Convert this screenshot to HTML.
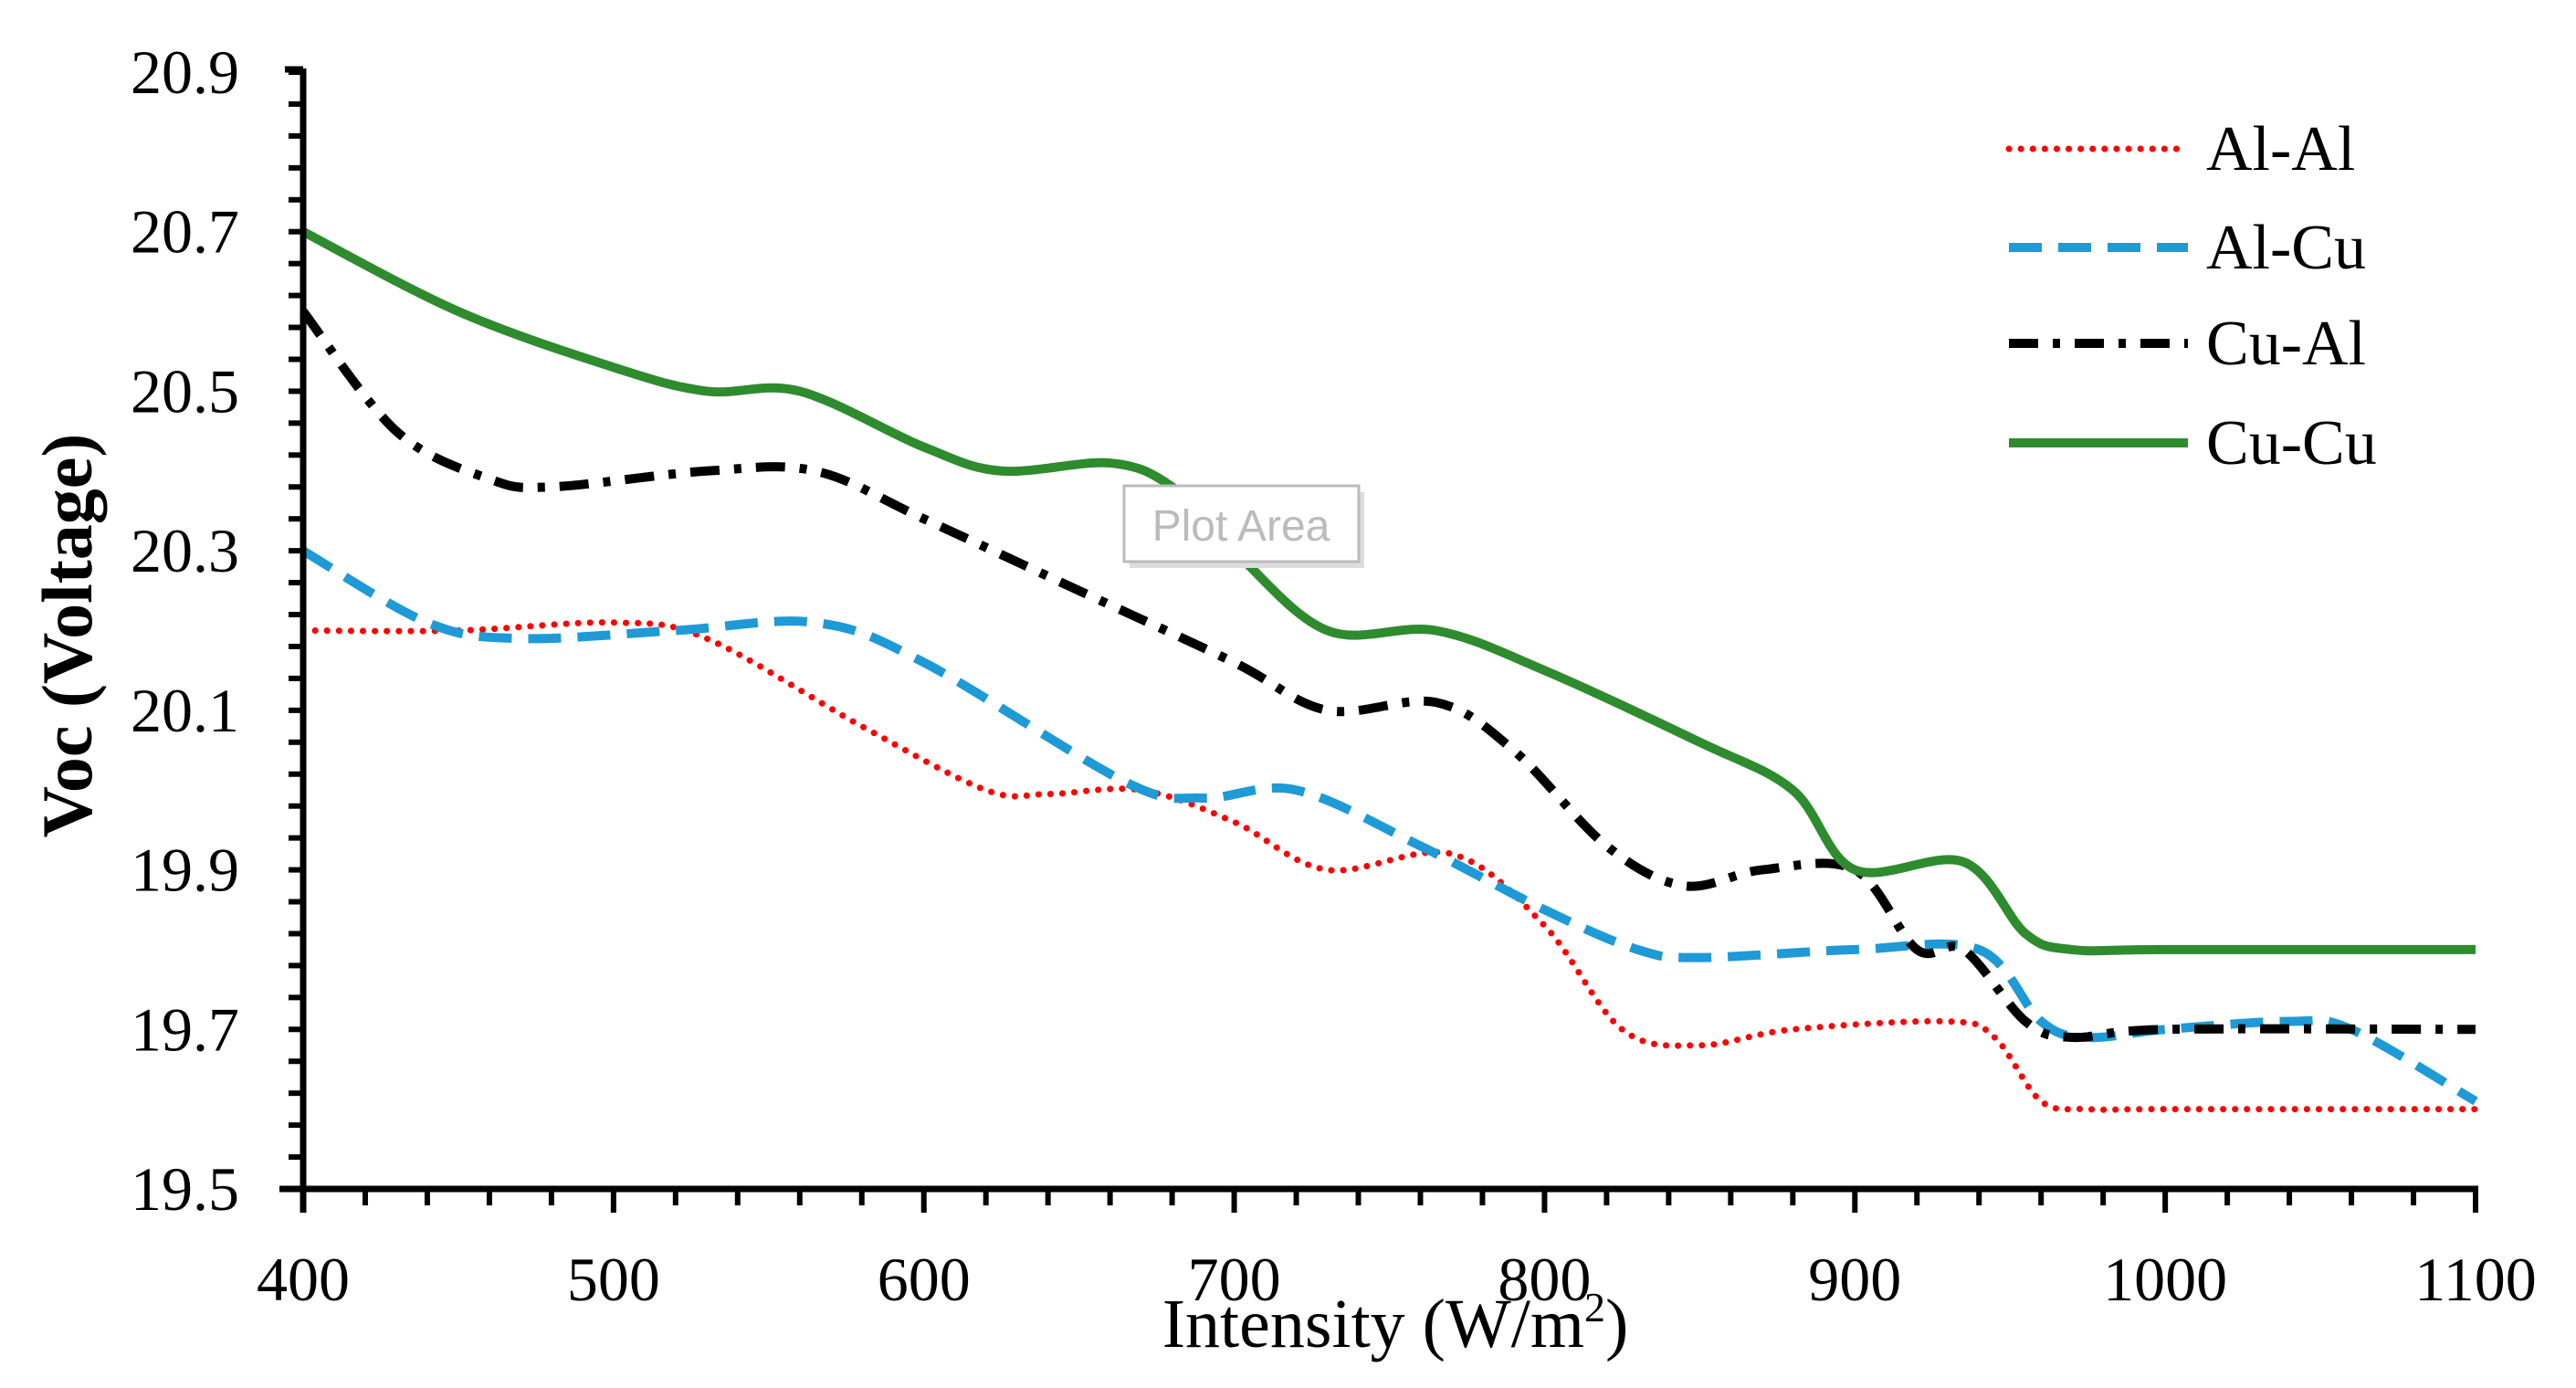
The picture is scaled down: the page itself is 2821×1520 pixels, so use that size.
<!DOCTYPE html>
<html><head><meta charset="utf-8"><style>
html,body{margin:0;padding:0;background:#fff}
svg{display:block}
text{font-family:"Liberation Serif",serif;fill:#000}
</style></head><body>
<svg id="chart" width="2821" height="1520" viewBox="0 0 2821 1520" xmlns="http://www.w3.org/2000/svg">
<g id="grid"></g><g id="series"></g><g id="axes"></g><g id="legend"></g>
</svg>
<script>
const xTicks=[400,500,600,700,800,900,1000,1100];
const yTicks=[19.5,19.7,19.9,20.1,20.3,20.5,20.7,20.9];
const alAlX=[400,450,500,530,580,620,640,670,700,730,770,800,825,850,880,930,945,960,975,1000,1100];
const alAlY=[20.2,20.2,20.21,20.19,20.08,20.0,19.995,20.0,19.96,19.9,19.92,19.83,19.7,19.68,19.7,19.71,19.69,19.61,19.6,19.6,19.6];
const alCuX=[400,440,470,520,565,600,665,690,720,760,800,830,850,900,940,960,975,1000,1040,1060,1100];
const alCuY=[20.3,20.21,20.19,20.2,20.21,20.16,20.01,19.99,20.0,19.93,19.85,19.8,19.79,19.8,19.8,19.71,19.69,19.7,19.71,19.7,19.61];
const cuAlX=[400,430,460,480,530,565,600,650,700,730,765,790,820,845,870,900,920,935,955,970,1000,1100];
const cuAlY=[20.6,20.45,20.39,20.38,20.4,20.4,20.34,20.25,20.16,20.1,20.11,20.05,19.93,19.88,19.9,19.9,19.8,19.8,19.71,19.69,19.7,19.7];
const cuCuX=[400,450,500,530,560,600,625,660,680,700,730,765,800,850,880,900,935,955,970,1000,1100];
const cuCuY=[20.7,20.6,20.53,20.5,20.5,20.43,20.4,20.41,20.38,20.3,20.2,20.2,20.15,20.06,20.0,19.9,19.91,19.82,19.8,19.8,19.8];
const names=["Al-Al","Al-Cu","Cu-Al","Cu-Cu"];

const NS="http://www.w3.org/2000/svg";
const X0=332,X1=2711,Y0=1302,Y1=79;
const sx=v=>X0+(v-400)/(1100-400)*(X1-X0);
const sy=v=>Y0-(v-19.5)/(20.9-19.5)*(Y0-Y1);
function mk(tag,attrs,parent){const e=document.createElementNS(NS,tag);for(const k in attrs)e.setAttribute(k,attrs[k]);parent.appendChild(e);return e;}
const axes=document.getElementById('axes'),ser=document.getElementById('series'),leg=document.getElementById('legend');

function smooth(xs,ys){
  const p=xs.map((x,i)=>[sx(x),sy(ys[i])]);
  let d=`M${p[0][0]},${p[0][1]}`;
  for(let i=0;i<p.length-1;i++){
    const p0=p[i-1]||p[i],p1=p[i],p2=p[i+1],p3=p[i+2]||p[i+1];
    const c1=[p1[0]+(p2[0]-p0[0])/6,p1[1]+(p2[1]-p0[1])/6];
    const c2=[p2[0]-(p3[0]-p1[0])/6,p2[1]-(p3[1]-p1[1])/6];
    d+=` C${c1[0]},${c1[1]} ${c2[0]},${c2[1]} ${p2[0]},${p2[1]}`;
  }
  return d;
}
const styles=[
 {stroke:"#ff0000",w:7,dash:"0.1 13",cap:"round"},
 {stroke:"#1e9ad6",w:10,dash:"36 18",cap:"butt"},
 {stroke:"#000000",w:10,dash:"32 16 8 16",cap:"butt"},
 {stroke:"#2e8b2e",w:10,dash:"",cap:"butt"}];
const data=[[alAlX,alAlY],[alCuX,alCuY],[cuAlX,cuAlY],[cuCuX,cuCuY]];
const snames=["series-al-al","series-al-cu","series-cu-al","series-cu-cu"];
data.forEach((s,i)=>{
  const st=styles[i];
  const el=mk('path',{d:smooth(s[0],s[1]),fill:"none",stroke:st.stroke,"stroke-width":st.w,"stroke-dasharray":st.dash,"stroke-linecap":st.cap},ser);
  
  
});
let a=mk('line',{x1:X0,y1:Y1-4,x2:X0,y2:Y0+26,stroke:"#000","stroke-width":7},axes);

a=mk('line',{x1:X0-26,y1:Y0,x2:X1+3,y2:Y0,stroke:"#000","stroke-width":7},axes);

mk('line',{x1:X0-20,y1:Y1-3,x2:X0,y2:Y1-3,stroke:"#000","stroke-width":7},axes);
for(let v=19.5;v<=20.9001;v+=0.04){const y=sy(v);const t=mk('line',{x1:X0-16,y1:y,x2:X0,y2:y,stroke:"#000","stroke-width":6},axes);}
for(let v=400;v<=1100;v+=20){const x=sx(v);const maj=(v%100===0);const t=mk('line',{x1:x,y1:Y0,x2:x,y2:Y0+(maj?26:18),stroke:"#000","stroke-width":6},axes);}
yTicks.forEach(v=>{const t=mk('text',{x:262,y:sy(v)+23,"text-anchor":"end","font-size":68},axes);t.textContent=v.toFixed(1);});
xTicks.forEach(v=>{const t=mk('text',{x:sx(v),y:1424,"text-anchor":"middle","font-size":68},axes);t.textContent=String(v);});
let t=mk('text',{x:1528,y:1475,"text-anchor":"middle","font-size":76},axes);
t.innerHTML='Intensity (W/m<tspan font-size="46" dy="-28">2</tspan><tspan dy="28">)</tspan>';

t=mk('text',{x:0,y:0,"text-anchor":"middle","font-size":78,"font-weight":"bold",transform:"translate(100,696) rotate(-90)"},axes);
t.textContent='Voc (Voltage)';
const tip=mk('g',{},axes);
mk('rect',{x:1237,y:539,width:257,height:83,fill:"#ddd"},tip);
mk('rect',{x:1231,y:532,width:257,height:83,fill:"#fff",stroke:"#bbb","stroke-width":3},tip);
const tt=mk('text',{x:1359,y:592,"text-anchor":"middle","font-size":48,style:"font-family:'Liberation Sans',sans-serif;fill:#bbb"},tip);tt.textContent='Plot Area';
const ly=[163,271,376,485];
names.forEach((n,i)=>{
  const st=styles[i];
  const g=mk('g',{},leg);
  
  
  mk('line',{x1:2200,y1:ly[i],x2:2396,y2:ly[i],stroke:st.stroke,"stroke-width":st.w,"stroke-dasharray":st.dash,"stroke-linecap":st.cap},g);
  const tx=mk('text',{x:2416,y:ly[i]+23,"font-size":70},g);tx.textContent=n;
});
</script>
</body></html>
